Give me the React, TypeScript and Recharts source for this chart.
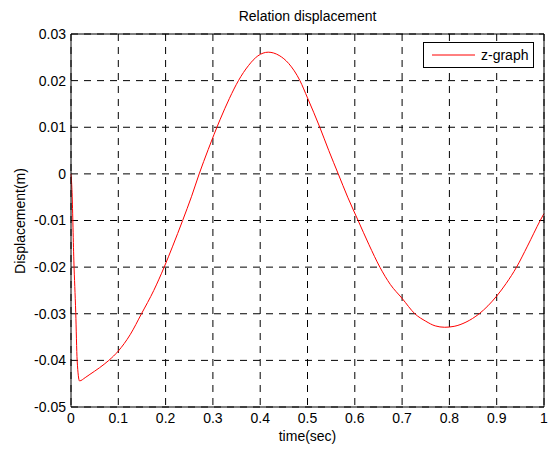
import { LineChart, Line, XAxis, YAxis, CartesianGrid, Legend } from 'recharts';

// values
const timeSec = [
  0, 0.002, 0.006, 0.01, 0.013, 0.018, 0.03, 0.04, 0.06, 0.08, 0.1, 0.125, 0.149, 0.175,
  0.197, 0.215, 0.236, 0.255, 0.271, 0.29, 0.315, 0.335, 0.354, 0.375, 0.395, 0.417, 0.44,
  0.46, 0.484, 0.5, 0.526, 0.545, 0.565, 0.585, 0.607, 0.63, 0.653, 0.675, 0.7, 0.727, 0.75,
  0.77, 0.79, 0.81, 0.835, 0.863, 0.9, 0.92, 0.942, 0.965, 0.992, 1.0,
];
const displacement = [
  0, -0.0034, -0.0185, -0.0297, -0.04, -0.0444, -0.0437, -0.043, -0.0416, -0.04, -0.038,
  -0.0345, -0.03, -0.025, -0.02, -0.0155, -0.01, -0.0048, 0, 0.0052, 0.0116, 0.0162, 0.02,
  0.0232, 0.0253, 0.0261, 0.0254, 0.0237, 0.02, 0.0163, 0.01, 0.005, 0, -0.005, -0.01,
  -0.0152, -0.02, -0.0237, -0.0267, -0.03, -0.0316, -0.0326, -0.0329, -0.0327, -0.0318,
  -0.03, -0.0262, -0.0235, -0.02, -0.0155, -0.01, -0.0085,
];
const xTicks = [0, 0.1, 0.2, 0.3, 0.4, 0.5, 0.6, 0.7, 0.8, 0.9, 1];
const yTicks = [-0.05, -0.04, -0.03, -0.02, -0.01, 0, 0.01, 0.02, 0.03];
const seriesName = 'z-graph';

const FONT = '"Liberation Sans", Arial, sans-serif';
const tickStyle = { fontSize: 14, fill: '#000', fontFamily: FONT };

const fmtY = (v: number) => (Math.abs(v) < 1e-9 ? '0' : v.toFixed(2));
const fmtX = (v: number) => (Math.abs(v) < 1e-9 ? '0' : v === 1 ? '1' : v.toFixed(1));

function LegendBox() {
  return (
    <div
      style={{
        width: 109,
        height: 24,
        border: '1px solid #000',
        background: '#fff',
        display: 'flex',
        alignItems: 'center',
        fontFamily: FONT,
        fontSize: 14,
      }}
    >
      <svg width={51} height={4} style={{ display: 'block' }}>
        <line x1={8} x2={51} y1={2} y2={2} stroke="#ff0000" strokeWidth={1} />
      </svg>
      <span style={{ marginLeft: 6 }}>{seriesName}</span>
    </div>
  );
}

export default function App() {
  const data = timeSec.map((t, i) => ({ t, z: displacement[i] }));

  return (
    <div style={{ position: 'absolute', left: 0, top: 0, width: 551, height: 449, background: '#fff' }}>
      <div
        style={{
          position: 'absolute',
          left: 71,
          width: 473,
          top: 8,
          textAlign: 'center',
          fontFamily: FONT,
          fontSize: 14,
        }}
      >
        Relation displacement
      </div>
      <div
        style={{
          position: 'absolute',
          left: 71,
          width: 473,
          top: 428,
          textAlign: 'center',
          fontFamily: FONT,
          fontSize: 14,
        }}
      >
        time(sec)
      </div>
      <div
        style={{
          position: 'absolute',
          left: 20,
          top: 221,
          transform: 'translate(-50%, -50%) rotate(-90deg)',
          whiteSpace: 'nowrap',
          fontFamily: FONT,
          fontSize: 14,
        }}
      >
        Displacement(m)
      </div>

      <LineChart width={551} height={449} data={data} margin={{ top: 34, right: 7, bottom: 12, left: 0 }}>
        <CartesianGrid stroke="#000" strokeDasharray="7 6" horizontalValues={yTicks} verticalValues={xTicks} />
        <XAxis
          dataKey="t"
          type="number"
          domain={[0, 1]}
          ticks={xTicks}
          interval={0}
          tickFormatter={fmtX}
          tick={tickStyle}
          tickLine={false}
          tickSize={0}
          tickMargin={6}
          height={30}
          axisLine={{ stroke: '#000' }}
        />
        <XAxis
          xAxisId="bottomTicks"
          dataKey="t"
          type="number"
          domain={[0, 1]}
          ticks={xTicks}
          interval={0}
          mirror
          tick={false}
          tickSize={5}
          axisLine={false}
          tickLine={{ stroke: '#000' }}
        />
        <XAxis
          xAxisId="top"
          orientation="top"
          dataKey="t"
          type="number"
          domain={[0, 1]}
          ticks={xTicks}
          interval={0}
          mirror
          tick={false}
          tickSize={5}
          axisLine={{ stroke: '#000' }}
          tickLine={{ stroke: '#000' }}
        />
        <YAxis
          type="number"
          domain={[-0.05, 0.03]}
          ticks={yTicks}
          interval={0}
          tickFormatter={fmtY}
          tick={tickStyle}
          tickLine={false}
          tickSize={0}
          tickMargin={5}
          width={71}
          axisLine={{ stroke: '#000' }}
        />
        <YAxis
          yAxisId="leftTicks"
          type="number"
          domain={[-0.05, 0.03]}
          ticks={yTicks}
          interval={0}
          mirror
          tick={false}
          tickSize={5}
          axisLine={false}
          tickLine={{ stroke: '#000' }}
        />
        <YAxis
          yAxisId="right"
          orientation="right"
          type="number"
          domain={[-0.05, 0.03]}
          ticks={yTicks}
          interval={0}
          mirror
          tick={false}
          tickSize={5}
          axisLine={{ stroke: '#000' }}
          tickLine={{ stroke: '#000' }}
        />
        <Legend
          layout="vertical"
          align="center"
          verticalAlign="middle"
          wrapperStyle={{ left: 423, top: 42, width: 'auto' }}
          content={() => <LegendBox />}
        />
        <Line
          type="monotone"
          dataKey="z"
          name={seriesName}
          stroke="#ff0000"
          strokeWidth={1}
          dot={false}
          isAnimationActive={false}
        />
      </LineChart>
    </div>
  );
}
